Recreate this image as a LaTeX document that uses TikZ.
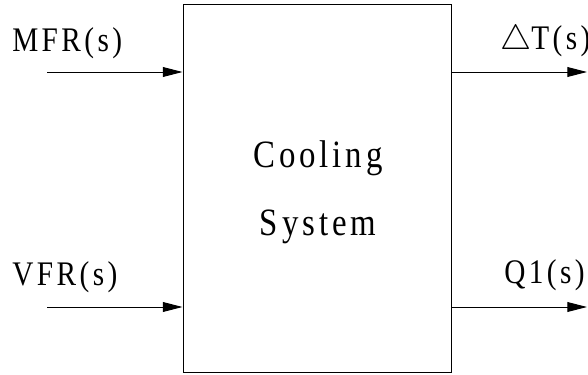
\documentclass[tikz,border=0pt]{standalone}
\usepackage{fontspec}
\setmainfont{Liberation Serif}
\newfontfamily\blockfont[FakeStretch=0.85,LetterSpace=10]{Liberation Serif}
\usepackage{tikz}
\usetikzlibrary{arrows.meta,positioning,calc}

\tikzset{
  signal/.style={-{Triangle[length=14pt,width=7pt]}, line width=0.7pt},
  sigtext/.style={anchor=base west, inner sep=0pt, font=\fontsize{24.5}{27}\blockfont},
  blockbox/.style={draw, line width=0.7pt, minimum width=268*0.025cm, minimum height=368*0.025cm, inner sep=0pt}
}

\begin{document}
\begin{tikzpicture}[x=0.025cm, y=-0.025cm]
    \useasboundingbox (0,0) rectangle (588,375);

    % The block
    \node[blockbox] (sys) at (317,188) {};
    \node[inner sep=0pt, anchor=base, font=\fontsize{27.5}{30}\blockfont] (line1) at (318,167) {Cooling};
    \node[inner sep=0pt, anchor=base, font=\fontsize{27.5}{30}\blockfont] (line2) at (318,235) {System};

    % Inputs
    \coordinate (mfrin) at (47,72);
    \coordinate (vfrin) at (47,307);
    \draw[signal] (mfrin) -- (mfrin -| sys.west);
    \draw[signal] (vfrin) -- (vfrin -| sys.west);
    \node[sigtext] (mfr) at (12,52) {MFR(s)};
    \node[sigtext] (vfr) at (12,285) {VFR(s)};

    % Outputs
    \coordinate (dtout) at (587,72);
    \coordinate (qout) at (587,307);
    \draw[signal] (dtout -| sys.east) -- (dtout);
    \draw[signal] (qout -| sys.east) -- (qout);
    \node[sigtext] (dt) at (500,50) {$\triangle$T(s)};
    \node[sigtext] (q1) at (504,283) {Q1(s)};
\end{tikzpicture}
\end{document}
